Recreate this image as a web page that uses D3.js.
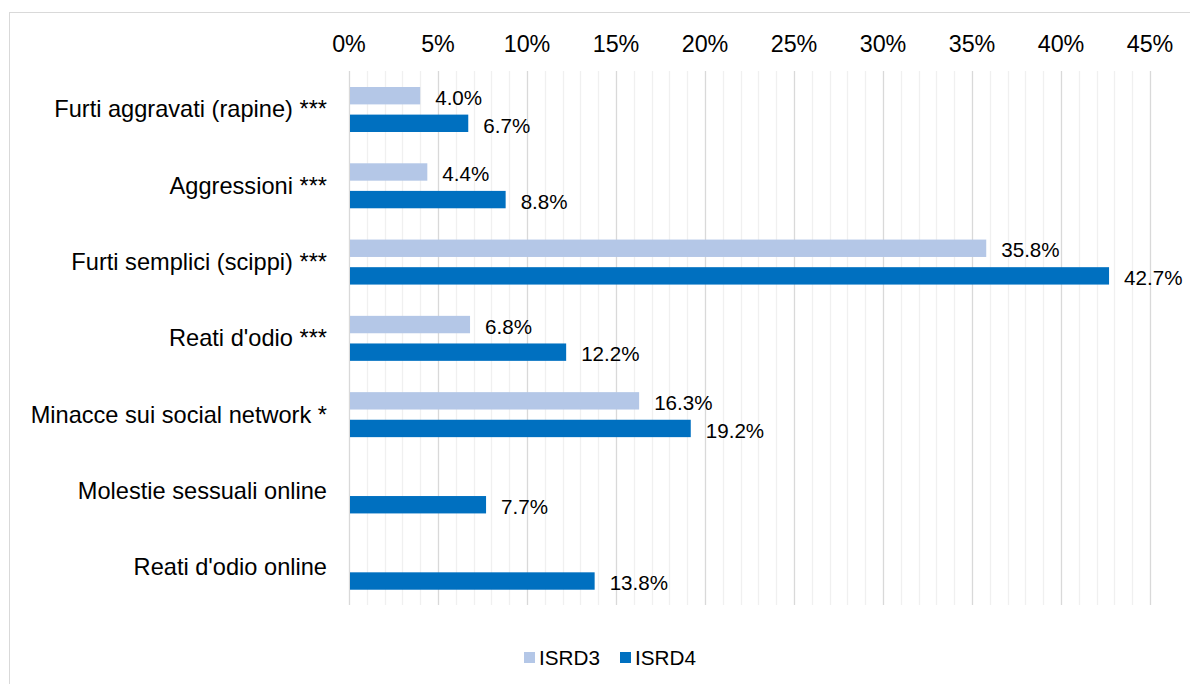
<!DOCTYPE html>
<html>
<head>
<meta charset="utf-8">
<script src="https://cdn.jsdelivr.net/npm/d3@7"></script>
<style>
  body { margin: 0; background: #ffffff; }
  svg { display: block; font-family: "Liberation Sans", Arial, sans-serif; }
</style>
</head>
<body>
<svg id="chart"></svg>
<script>
const categories = [
    "Furti aggravati (rapine) ***",
    "Aggressioni ***",
    "Furti semplici (scippi) ***",
    "Reati d'odio ***",
    "Minacce sui social network *",
    "Molestie sessuali online",
    "Reati d'odio online"
];
const isrd3 = [0.040, 0.044, 0.358, 0.068, 0.163, null, null];
const isrd4 = [0.067, 0.088, 0.427, 0.122, 0.192, 0.077, 0.138];
const seriesNames = ["ISRD3", "ISRD4"];
const seriesColors = ["#b4c7e7", "#0070c0"];
const majorTicks = d3.range(0, 0.451, 0.05);
const minorTicks = d3.range(0, 0.451, 0.01);

const width = 1190, height = 684;
const margin = { top: 71, right: 40, bottom: 79, left: 349 };

const svg = d3.select("#chart").attr("width", width).attr("height", height);

// outer frame of the chart area
svg.append("rect")
    .attr("x", 9.5).attr("y", 12.5)
    .attr("width", 1220).attr("height", 700)
    .attr("fill", "#ffffff")
    .attr("stroke", "#d9d9d9")
    .attr("stroke-width", 1);

const x = d3.scaleLinear().domain([0, 0.45]).range([margin.left, 1150]);
const y = d3.scaleBand().domain(categories).range([margin.top, height - margin.bottom]);
const inner = d3.scaleBand().domain(seriesNames).range([16, 61]).paddingInner(0.37);

// gridlines
svg.append("g").selectAll("line")
    .data(minorTicks)
    .enter().append("line")
    .attr("x1", d => Math.round(x(d)) + 0.5)
    .attr("x2", d => Math.round(x(d)) + 0.5)
    .attr("y1", margin.top)
    .attr("y2", height - margin.bottom)
    .attr("stroke", (d, i) => i % 5 === 0 ? "#d9d9d9" : "#f0f0f0")
    .attr("stroke-width", 1.3);

// top axis labels
svg.append("g").selectAll("text")
    .data(majorTicks)
    .enter().append("text")
    .attr("x", d => x(d))
    .attr("y", 44)
    .attr("dy", "0.35em")
    .attr("text-anchor", "middle")
    .attr("font-size", "23.3px")
    .attr("fill", "#000")
    .text(d => d3.format(".0%")(d));

// category labels
svg.append("g").selectAll("text")
    .data(categories)
    .enter().append("text")
    .attr("x", 327)
    .attr("y", d => y(d) + y.bandwidth() / 2)
    .attr("dy", "0.35em")
    .attr("text-anchor", "end")
    .attr("font-size", "23.6px")
    .attr("fill", "#000")
    .text(d => d);

const series = [isrd3, isrd4];
series.forEach((vals, s) => {
    const rows = categories.map((c, i) => ({ cat: c, value: vals[i] })).filter(d => d.value != null);
    const g = svg.append("g");
    g.selectAll("rect")
        .data(rows)
        .enter().append("rect")
        .attr("x", x(0) + 1)
        .attr("y", d => y(d.cat) + inner(seriesNames[s]))
        .attr("width", d => x(d.value) - x(0) - 1)
        .attr("height", inner.bandwidth())
        .attr("fill", seriesColors[s]);
    g.selectAll("text")
        .data(rows)
        .enter().append("text")
        .attr("x", d => x(d.value) + 15)
        .attr("y", d => y(d.cat) + inner(seriesNames[s]) + inner.bandwidth() / 2 + 2)
        .attr("dy", "0.35em")
        .attr("font-size", "20.6px")
        .attr("fill", "#000")
        .text(d => d3.format(".1%")(d.value));
});

// legend
const legend = svg.append("g").attr("transform", "translate(524,657)");
const legendX = [0, 96];
seriesNames.forEach((name, i) => {
    legend.append("rect")
        .attr("x", legendX[i]).attr("y", -5)
        .attr("width", 11).attr("height", 11)
        .attr("fill", seriesColors[i]);
    legend.append("text")
        .attr("x", legendX[i] + 15).attr("y", 1)
        .attr("dy", "0.35em")
        .attr("font-size", "20.7px")
        .attr("fill", "#000")
        .text(name);
});
</script>
</body>
</html>
